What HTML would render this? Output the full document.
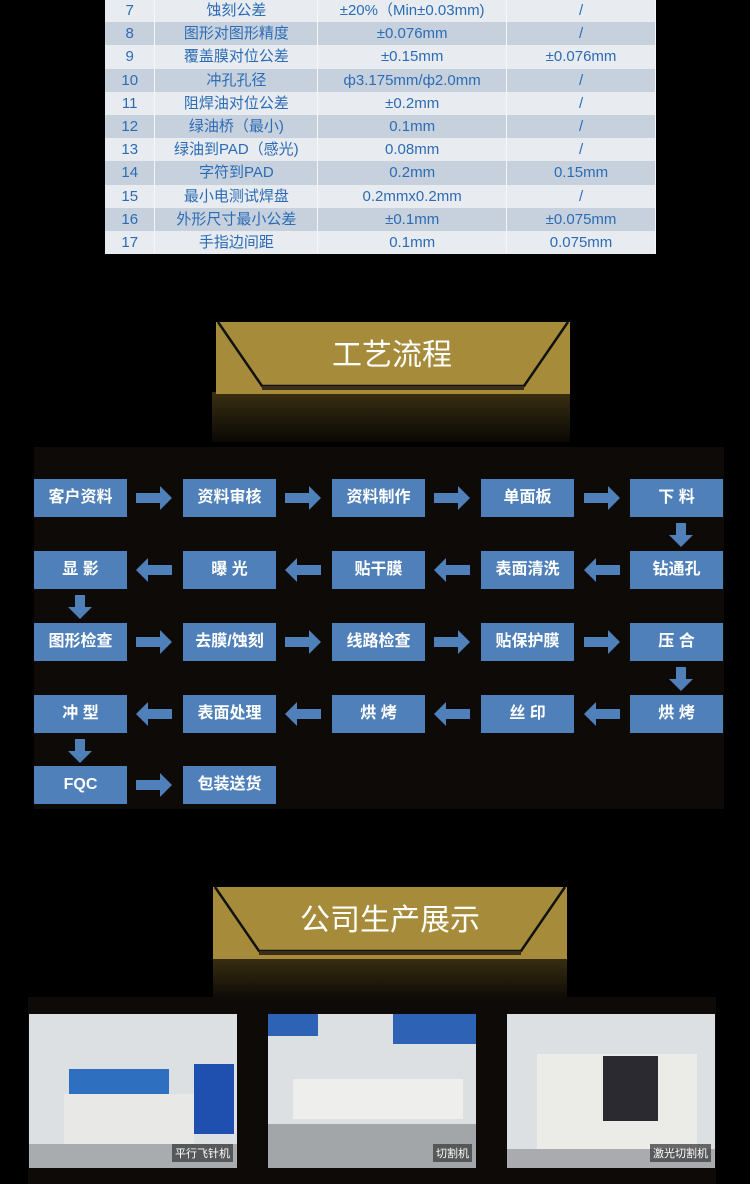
<!DOCTYPE html>
<html><head><meta charset="utf-8"><style>
*{margin:0;padding:0;box-sizing:border-box}
body{width:750px;height:1184px;background:#000;position:relative;overflow:hidden;font-family:"Liberation Sans","Noto Sans CJK SC",sans-serif}
.tbl{position:absolute;left:105px;top:-1px;width:551px;border-collapse:collapse}
.tbl td{height:23.2px;color:#2b6cb5;font-size:15px;text-align:center;border-right:1px solid #f4f6f8;padding:0;line-height:23px}
.tbl tr:nth-child(odd) td{background:#e8ebef}
.tbl tr:nth-child(even) td{background:#c7d1de}
.panel{position:absolute;left:34px;top:447px;width:690px;height:362px;background:#0e0a07}
.b{position:absolute;width:93px;height:38px;background:#4f80b9;color:#fff;font-weight:bold;font-size:16px;text-align:center;line-height:38px}
.photo{position:absolute;top:1014px;width:208px;height:154px;background:#dde0e3;overflow:hidden}
.cap{position:absolute;right:4px;bottom:6px;background:rgba(60,60,60,.75);color:#fff;font-size:11px;padding:1px 3px}
</style></head><body>
<table class="tbl">
<colgroup><col style="width:50px"><col style="width:163px"><col style="width:189px"><col style="width:149px"></colgroup>
<tr><td>7</td><td>蚀刻公差</td><td>±20%（Min±0.03mm)</td><td>/</td></tr>
<tr><td>8</td><td>图形对图形精度</td><td>±0.076mm</td><td>/</td></tr>
<tr><td>9</td><td>覆盖膜对位公差</td><td>±0.15mm</td><td>±0.076mm</td></tr>
<tr><td>10</td><td>冲孔孔径</td><td>ф3.175mm/ф2.0mm</td><td>/</td></tr>
<tr><td>11</td><td>阻焊油对位公差</td><td>±0.2mm</td><td>/</td></tr>
<tr><td>12</td><td>绿油桥（最小)</td><td>0.1mm</td><td>/</td></tr>
<tr><td>13</td><td>绿油到PAD（感光)</td><td>0.08mm</td><td>/</td></tr>
<tr><td>14</td><td>字符到PAD</td><td>0.2mm</td><td>0.15mm</td></tr>
<tr><td>15</td><td>最小电测试焊盘</td><td>0.2mmx0.2mm</td><td>/</td></tr>
<tr><td>16</td><td>外形尺寸最小公差</td><td>±0.1mm</td><td>±0.075mm</td></tr>
<tr><td>17</td><td>手指边间距</td><td>0.1mm</td><td>0.075mm</td></tr>
</table>

<svg style="position:absolute;left:0;top:0" width="750" height="1184">
<defs><linearGradient id="g" x1="0" y1="0" x2="0" y2="1"><stop offset="0" stop-color="#3a2f12"/><stop offset="1" stop-color="#0a0805" stop-opacity="1"/></linearGradient></defs>
<rect x="212" y="392" width="358" height="50" fill="url(#g)"/>
<rect x="216" y="322" width="354" height="72" fill="#a68b3a"/>
<polyline points="218,322 262,386 524,386 568,322" fill="none" stroke="#111" stroke-width="2.5"/>
<rect x="262" y="386" width="262" height="4" fill="#3a2f16"/>
<text x="392" y="365" fill="#fff" font-size="30" text-anchor="middle" font-family="Liberation Sans,Noto Sans CJK SC,sans-serif">工艺流程</text>
<rect x="213" y="957" width="354" height="45" fill="url(#g)"/>
<rect x="213" y="887" width="354" height="72" fill="#a68b3a"/>
<polyline points="215,887 259,951 521,951 565,887" fill="none" stroke="#111" stroke-width="2.5"/>
<rect x="259" y="951" width="262" height="4" fill="#3a2f16"/>
<text x="390" y="930" fill="#fff" font-size="30" text-anchor="middle" font-family="Liberation Sans,Noto Sans CJK SC,sans-serif">公司生产展示</text>
</svg>

<div class="panel"></div>
<div style="position:absolute;left:28px;top:997px;width:688px;height:187px;background:#0d0a07"></div>

<div class="b" style="left:34px;top:479px">客户资料</div>
<div class="b" style="left:183px;top:479px">资料审核</div>
<div class="b" style="left:332px;top:479px">资料制作</div>
<div class="b" style="left:481px;top:479px">单面板</div>
<div class="b" style="left:630px;top:479px">下 料</div>
<div class="b" style="left:34px;top:551px">显 影</div>
<div class="b" style="left:183px;top:551px">曝 光</div>
<div class="b" style="left:332px;top:551px">贴干膜</div>
<div class="b" style="left:481px;top:551px">表面清洗</div>
<div class="b" style="left:630px;top:551px">钻通孔</div>
<div class="b" style="left:34px;top:623px">图形检查</div>
<div class="b" style="left:183px;top:623px">去膜/蚀刻</div>
<div class="b" style="left:332px;top:623px">线路检查</div>
<div class="b" style="left:481px;top:623px">贴保护膜</div>
<div class="b" style="left:630px;top:623px">压 合</div>
<div class="b" style="left:34px;top:695px">冲 型</div>
<div class="b" style="left:183px;top:695px">表面处理</div>
<div class="b" style="left:332px;top:695px">烘 烤</div>
<div class="b" style="left:481px;top:695px">丝 印</div>
<div class="b" style="left:630px;top:695px">烘 烤</div>
<div class="b" style="left:34px;top:766px">FQC</div>
<div class="b" style="left:183px;top:766px">包装送货</div>

<svg style="position:absolute;left:0;top:0" width="750" height="1184" fill="#4f80b9">
<defs>
<path id="r" d="M0,-5 H24 V-12 L36,0 L24,12 V5 H0 Z"/>
<path id="l" d="M36,-5 H12 V-12 L0,0 L12,12 V5 H36 Z"/>
<path id="d" d="M-5,0 V12 H-12 L0,24 L12,12 H5 V0 Z"/>
</defs>
<use href="#r" x="136" y="498"/><use href="#r" x="285" y="498"/><use href="#r" x="434" y="498"/><use href="#r" x="584" y="498"/>
<use href="#d" x="681" y="523"/>
<use href="#l" x="136" y="570"/><use href="#l" x="285" y="570"/><use href="#l" x="434" y="570"/><use href="#l" x="584" y="570"/>
<use href="#d" x="80" y="595"/>
<use href="#r" x="136" y="642"/><use href="#r" x="285" y="642"/><use href="#r" x="434" y="642"/><use href="#r" x="584" y="642"/>
<use href="#d" x="681" y="667"/>
<use href="#l" x="136" y="714"/><use href="#l" x="285" y="714"/><use href="#l" x="434" y="714"/><use href="#l" x="584" y="714"/>
<use href="#d" x="80" y="739"/>
<use href="#r" x="136" y="785"/>
</svg>

<div class="photo" style="left:29px">
 <div style="position:absolute;left:40px;top:55px;width:100px;height:30px;background:#2e6fc0"></div>
 <div style="position:absolute;left:35px;top:80px;width:130px;height:70px;background:#e8e8e6"></div>
 <div style="position:absolute;left:165px;top:50px;width:40px;height:70px;background:#1f50b0"></div>
 <div style="position:absolute;left:0;top:130px;width:208px;height:24px;background:#a9acae"></div>
 <div class="cap">平行飞针机</div>
</div>
<div class="photo" style="left:268px">
 <div style="position:absolute;left:0;top:0;width:50px;height:22px;background:#2d62b5"></div>
 <div style="position:absolute;left:125px;top:0;width:83px;height:30px;background:#2d62b5"></div>
 <div style="position:absolute;left:25px;top:65px;width:170px;height:40px;background:#eeeeec"></div>
 <div style="position:absolute;left:0;top:110px;width:208px;height:44px;background:#a3a6a8"></div>
 <div class="cap">切割机</div>
</div>
<div class="photo" style="left:507px">
 <div style="position:absolute;left:30px;top:40px;width:160px;height:100px;background:#ebebe8"></div>
 <div style="position:absolute;left:96px;top:42px;width:55px;height:65px;background:#2a2a30"></div>
 <div style="position:absolute;left:0;top:135px;width:208px;height:19px;background:#a9abae"></div>
 <div class="cap">激光切割机</div>
</div>
</body></html>
